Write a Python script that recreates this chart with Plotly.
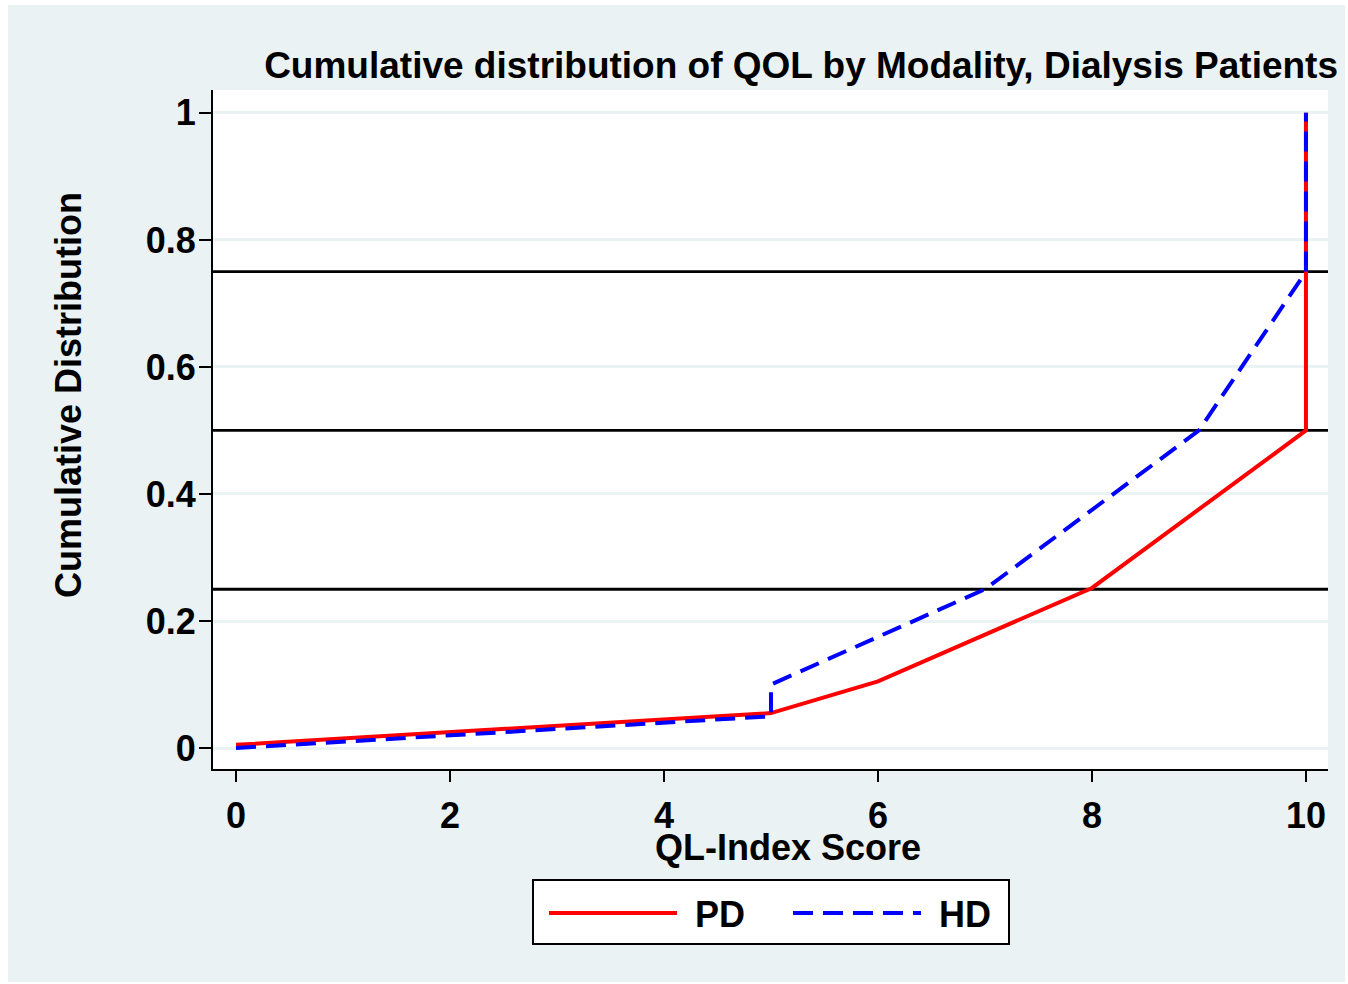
import plotly.graph_objects as go

# Data
pd_x = [0, 5, 6, 8, 10, 10]
pd_y = [0.005, 0.055, 0.105, 0.252, 0.5, 1.0]
hd_x = [0, 5, 5, 7, 9, 10, 10]
hd_y = [0.0, 0.05, 0.1, 0.25, 0.5, 0.75, 1.0]
ref_lines = [0.25, 0.5, 0.75]
x_ticks = [0, 2, 4, 6, 8, 10]
y_ticks = [0, 0.2, 0.4, 0.6, 0.8, 1]
y_tick_labels = ["0", "0.2", "0.4", "0.6", "0.8", "1"]
series_names = ["PD", "HD"]

W, H = 1348, 984
L, R, T, B = 213, 1328, 90, 769
pw, ph = R - L, B - T

def px_x(p):
    return (p - L) / pw

def px_y(p):
    return (B - p) / ph

FONT = "Arial, Liberation Sans, sans-serif"
BG = "#EAF2F3"

fig = go.Figure()

# Background regions (drawn first so that later shapes sit above them)
fig.add_shape(type="rect", xref="paper", yref="paper",
              x0=px_x(8), x1=px_x(1345), y0=px_y(982), y1=px_y(5),
              fillcolor=BG, line=dict(width=0), layer="below")
fig.add_shape(type="rect", xref="paper", yref="paper",
              x0=0, x1=1, y0=0, y1=1,
              fillcolor="white", line=dict(width=0), layer="below")
# Legend box
fig.add_shape(type="rect", xref="paper", yref="paper",
              x0=px_x(533), x1=px_x(1009), y0=px_y(944), y1=px_y(880),
              fillcolor="white", line=dict(color="black", width=2), layer="below")

for v in ref_lines:
    fig.add_hline(y=v, line=dict(color="black", width=2.8), layer="below")

pad = " \u200a"
fig.add_trace(go.Scatter(x=pd_x, y=pd_y, mode="lines", name=pad + series_names[0],
                         line=dict(color="#FF0000", width=4)))
fig.add_trace(go.Scatter(x=hd_x, y=hd_y, mode="lines", name=pad + series_names[1],
                         line=dict(color="#0000FF", width=4, dash="20px,10px")))

fig.update_layout(
    width=W, height=H,
    margin=dict(l=L, r=W - R, t=T, b=H - B, pad=0),
    paper_bgcolor="white", plot_bgcolor="white",
    font=dict(family=FONT, size=36, color="black", weight="bold"),
    title=dict(text="<b>Cumulative distribution of QOL by Modality, Dialysis Patients</b>",
               x=1338 / W, xanchor="right", xref="container",
               y=1 - 65 / H, yanchor="middle", yref="container",
               font=dict(size=37, family=FONT, color="black")),
    showlegend=True,
    legend=dict(orientation="h", x=px_x(544), xanchor="left",
                y=px_y(913), yanchor="middle",
                bgcolor="rgba(0,0,0,0)", borderwidth=0,
                itemwidth=128, font=dict(size=36, family=FONT, color="black", weight="bold"),
                entrywidth=101, entrywidthmode="pixels"),
)

fig.update_xaxes(range=[-0.215, 10.206], tickvals=x_ticks,
                 ticktext=[f"<b>{t}</b>" for t in x_ticks],
                 showgrid=False, zeroline=False,
                 showline=True, linecolor="black", linewidth=2,
                 ticks="outside", ticklen=11, tickwidth=2, tickcolor="black",
                 ticklabelstandoff=3,
                 tickfont=dict(size=36, family=FONT, color="black"))
fig.update_yaxes(range=[-0.033, 1.036], tickvals=y_ticks,
                 ticktext=[f"<b>{t}</b>" for t in y_tick_labels],
                 showgrid=True, gridcolor=BG, gridwidth=3, zeroline=False,
                 showline=True, linecolor="black", linewidth=2,
                 ticks="outside", ticklen=12, tickwidth=2, tickcolor="black",
                 ticklabelstandoff=-4,
                 tickfont=dict(size=36, family=FONT, color="black"))

fig.add_annotation(text="<b>QL-Index Score</b>", xref="paper", yref="paper",
                   x=px_x(788), y=px_y(847), xanchor="center", yanchor="middle",
                   showarrow=False, font=dict(size=36, family=FONT, color="black"))
fig.add_annotation(text="<b>Cumulative Distribution</b>", xref="paper", yref="paper",
                   x=px_x(68), y=px_y(395), xanchor="center", yanchor="middle",
                   textangle=-90, showarrow=False,
                   font=dict(size=36, family=FONT, color="black"))

fig.write_html("out.html", config={"displayModeBar": False},
               post_script="document.body.style.margin='0px';")
